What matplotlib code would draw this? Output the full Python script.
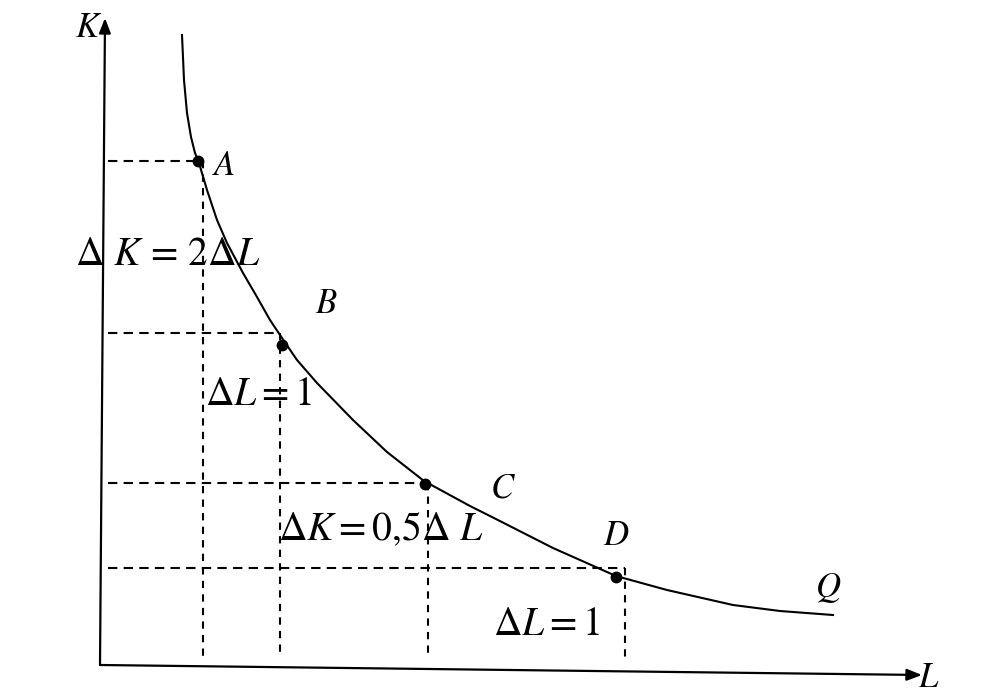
import matplotlib
matplotlib.use("Agg")
import matplotlib.pyplot as plt

plt.rcParams['mathtext.fontset'] = 'stix'
plt.rcParams['font.family'] = ['Liberation Serif', 'DejaVu Serif']

# isoquant Q, points (L, K)
curve_L = [0.82, 0.84, 0.87, 0.91, 0.95, 0.99, 1.07, 1.17, 1.27, 1.43, 1.57, 1.70, 1.82,
           1.97, 2.17, 2.53, 2.87, 3.24, 3.70, 3.90, 4.53, 5.16, 5.67, 6.33, 6.80, 7.33]
curve_K = [6.30, 5.85, 5.52, 5.28, 5.12, 5.02, 4.75, 4.45, 4.22, 3.92, 3.68, 3.45, 3.27,
           3.05, 2.82, 2.45, 2.13, 1.84, 1.59, 1.49, 1.17, 0.89, 0.75, 0.60, 0.54, 0.50]

# marked points A, B, C, D
pt_names = ['A', 'B', 'C', 'D']
pt_L = [0.98, 1.82, 3.25, 5.16]
pt_K = [5.04, 3.20, 1.81, 0.88]

# dashed guide lines (level of the horizontal one, position of the vertical one)
guide_K = [5.04, 3.32, 1.82, 0.97]
guide_L = [1.03, 1.80, 3.28, 5.25]

fig = plt.figure(figsize=(9.95, 6.99), dpi=100)
ax = fig.add_axes([0, 0, 1, 1])
ax.set_xlim(-1.0, 8.95)
ax.set_ylim(-0.34, 6.65)
ax.axis('off')

# axes with arrows
ax.annotate('', xy=(0.05, 6.47), xytext=(0.0, 0.0),
            arrowprops=dict(arrowstyle='-|>,head_length=0.9,head_width=0.35',
                            lw=1.6, color='black', shrinkA=0, shrinkB=0))
ax.annotate('', xy=(8.22, -0.10), xytext=(0.0, 0.0),
            arrowprops=dict(arrowstyle='-|>,head_length=0.9,head_width=0.35',
                            lw=1.6, color='black', shrinkA=0, shrinkB=0))

# guide lines
for gk, gl in zip(guide_K, guide_L):
    ax.plot([0.08, gl], [gk, gk], color='black', lw=1.5, dashes=(4.5, 3))
    ax.plot([gl, gl], [gk, 0.07], color='black', lw=1.5, dashes=(3.5, 3))

# isoquant and points
ax.plot(curve_L, curve_K, color='black', lw=1.5)
ax.plot(pt_L, pt_K, 'o', color='black', ms=7.5)

fs = 25
ax.text(-0.25, 6.28, '$K$', fontsize=fs, va='baseline')
ax.text(8.18, -0.22, '$L$', fontsize=fs, va='baseline')
ax.text(7.15, 0.68, '$Q$', fontsize=fs, va='baseline')

label_L = [1.12, 2.15, 3.90, 5.03]
label_K = [4.90, 3.52, 1.67, 1.20]
for name, x, y in zip(pt_names, label_L, label_K):
    ax.text(x, y, '$' + name + '$', fontsize=fs, va='baseline')

fs2 = 28.5
ax.text(-0.25, 4.00, r'$\Delta\ K\,=\,2\Delta L$', fontsize=fs2, va='baseline')
ax.text(1.05, 2.60, r'$\Delta L = 1$', fontsize=fs2, va='baseline')
ax.text(1.78, 1.25, r'$\Delta K = 0{,}5\Delta\ L$', fontsize=fs2, va='baseline')
ax.text(3.93, 0.30, r'$\Delta L = 1$', fontsize=fs2, va='baseline')

fig.savefig('out.png', dpi=100)
